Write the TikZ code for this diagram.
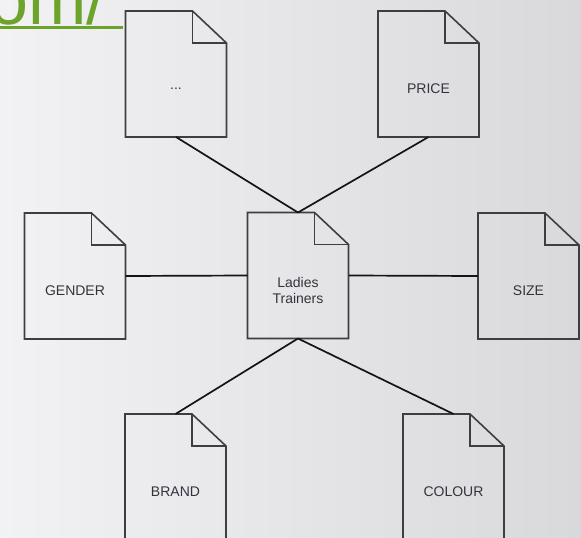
\documentclass[tikz,border=0pt]{standalone}
\usepackage{fontspec}
\setmainfont{Liberation Sans}
\definecolor{bgleft}{HTML}{F2F2F4}
\definecolor{bgright}{HTML}{D9D9DC}
\definecolor{docline}{HTML}{3E3E3E}
\definecolor{linkgreen}{HTML}{6CA32A}
\definecolor{doctext}{HTML}{33333D}
\begin{document}
\begin{tikzpicture}[x=1pt,y=-1pt,
  docbox/.style={minimum width=101pt, minimum height=126pt, inner sep=0pt, outer sep=0pt,
    append after command={\pgfextra{%
      \draw[docline, line width=1.6pt, line join=miter]
        (\tikzlastnode.north west) -- ([xshift=-34pt]\tikzlastnode.north east)
        -- ([yshift=-32pt]\tikzlastnode.north east) -- (\tikzlastnode.south east)
        -- (\tikzlastnode.south west) -- cycle;
      \draw[docline, line width=1.6pt]
        ([xshift=-34pt]\tikzlastnode.north east) |- ([yshift=-32pt]\tikzlastnode.north east);
    }}},
  doclabel/.style={font=\fontsize{14}{16}\selectfont, text=doctext, align=center, yshift=-15pt},
  conn/.style={draw=black!92, line width=1.7pt}]
\useasboundingbox (0,0) rectangle (581,538);
\shade[left color=bgleft, right color=bgright] (0,0) rectangle (581,538);
\begin{scope}
\clip (0,0) rectangle (581,538);
\node[anchor=base west, inner sep=0pt, text=linkgreen, font=\fontsize{70}{70}\selectfont] (lnk) at (-11,24) {om/};
\draw[linkgreen, line width=3.2pt] (0,27.5) -- (123,27.5);
\end{scope}
\node[docbox, label={[doclabel, name=tdots]center:...}] (dots) at (176,74) {};
\node[docbox, label={[doclabel, name=tprice]center:PRICE}] (price) at (428.5,74) {};
\node[docbox, label={[doclabel, name=tcenter]center:Ladies\\Trainers}] (center) at (298,275.5) {};
\node[docbox, label={[doclabel, name=tgender]center:GENDER}] (gender) at (75,276) {};
\node[docbox, label={[doclabel, name=tsize]center:SIZE}] (size) at (528.5,276) {};
\node[docbox, label={[doclabel, name=tbrand]center:BRAND}] (brand) at (175.5,477) {};
\node[docbox, label={[doclabel, name=tcolour]center:COLOUR}] (colour) at (453.5,477) {};
\draw[conn] (center.north) -- (dots.south);
\draw[conn] (center.north) -- (price.south);
\draw[conn] (center.west) -- (gender.east);
\draw[conn] (center.east) -- (size.west);
\draw[conn] (center.south) -- (brand.north);
\draw[conn] (center.south) -- (colour.north);
\end{tikzpicture}
\end{document}
